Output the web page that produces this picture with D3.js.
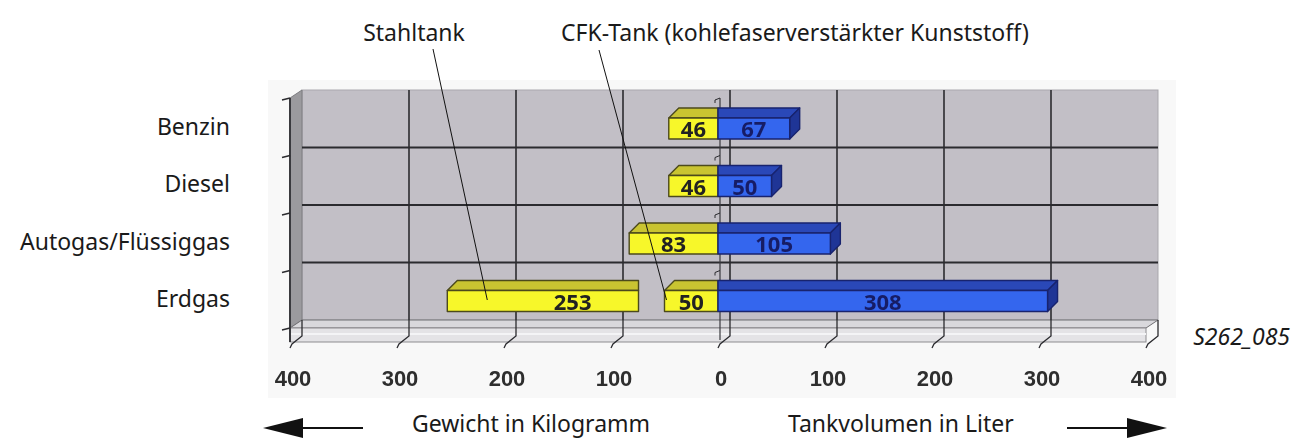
<!DOCTYPE html>
<html lang="de">
<head>
<meta charset="utf-8">
<title>Tankgewicht und Tankvolumen</title>
<style>
    body { margin: 0; background: #fff; }
    svg text { font-family: "Noto Sans", sans-serif; }
    .lbl { font-size: 23px; fill: #1a1a1a; }
    .num { font-family: "Liberation Sans", Arial, sans-serif !important; font-weight: bold; }
</style>
<script src="https://d3js.org/d3.v7.min.js"></script>
</head>
<body>
<div id="chart"></div>
<script>

    // data
    var categories = ["Benzin", "Diesel", "Autogas/Flüssiggas", "Erdgas"];
    var weight = [46, 46, 83, 50];          // kg, yellow bars next to 0
    var steelWeight = [0, 0, 0, 253];       // kg, Stahltank (only Erdgas)
    var volume = [67, 50, 105, 308];        // litre, blue bars
    var tickValues = [-400, -300, -200, -100, 0, 100, 200, 300, 400];
    var tickLabels = ["400", "300", "200", "100", "0", "100", "200", "300", "400"];

    var width = 1307, height = 441;
    var DX = 12, DY = -8;        // depth of the wall (front -> back)
    var BDX = 10, BDY = -10;     // depth of a bar
    var barH = 21;

    var svg = d3.select("#chart").append("svg")
        .attr("width", width)
        .attr("height", height);

    // soft look for the pixel font of the numbers
    svg.append("defs").append("filter").attr("id", "soft")
        .append("feGaussianBlur").attr("stdDeviation", 0.45);

    // front plane scales
    var x = d3.scaleLinear().domain([-400, 400]).range([290, 1146]);
    var y = d3.scaleBand().domain(categories).range([98, 328]);

    var x0 = x(-400), x1 = x(400), yTop = y.range()[0], yBot = y.range()[1];

    function poly(pts) { return "M" + pts.map(function(p) { return p.join(","); }).join("L") + "Z"; }

    // faint chart area
    svg.append("rect")
        .attr("x", 268).attr("y", 80).attr("width", 908).attr("height", 318)
        .attr("fill", "#f8f8f8");

    // back wall
    svg.append("rect")
        .attr("x", x0 + DX).attr("y", yTop + DY)
        .attr("width", x1 - x0).attr("height", yBot - yTop)
        .attr("fill", "#c2bfc6")
        .attr("stroke", "#a9a7ad");

    // left side wall
    svg.append("path")
        .attr("d", poly([[x0, yTop], [x0 + DX, yTop + DY], [x0 + DX, yBot + DY], [x0, yBot]]))
        .attr("fill", "#9b9a9e")
        .attr("stroke", "#7d7c80");

    // floor: top and front face
    svg.append("path")
        .attr("d", poly([[x0, yBot], [x0 + DX, yBot + DY], [x1 + DX, yBot + DY], [x1, yBot]]))
        .attr("fill", "#d9d8dc")
        .attr("stroke", "#6f6e72");
    svg.append("rect")
        .attr("x", x0).attr("y", yBot).attr("width", x1 - x0).attr("height", 14)
        .attr("fill", "#e4e3e6")
        .attr("stroke", "#8d8c90");
    svg.append("line")
        .attr("x1", x0).attr("x2", x1).attr("y1", yBot + 6).attr("y2", yBot + 6)
        .attr("stroke", "#f4f4f6").attr("stroke-width", 2);

    // vertical gridlines on the back wall and over the floor
    var grid = svg.append("g").attr("stroke", "#2b2b2f").attr("fill", "none");
    tickValues.slice(1, -1).forEach(function(v) {
        grid.append("line")
            .attr("x1", x(v) + DX).attr("x2", x(v) + DX)
            .attr("y1", yTop + DY).attr("y2", yBot + DY)
            .attr("stroke-width", 1.6);
    });
    tickValues.forEach(function(v) {
        grid.append("path")
            .attr("d", "M" + (x(v) + DX) + "," + (yBot + DY) + "L" + (x(v) + DX) + "," + (yBot + 8) +
                       "L" + (x(v) + 2) + "," + (yBot + 16) + "L" + x(v) + "," + (yBot + 20))
            .attr("stroke-width", 1.3);
    });

    // horizontal gridlines (category boundaries)
    categories.slice(1).forEach(function(c) {
        grid.append("line")
            .attr("x1", x0 + DX).attr("x2", x1 + DX)
            .attr("y1", y(c) + DY).attr("y2", y(c) + DY)
            .attr("stroke-width", 2);
    });

    // left axis with ticks
    grid.append("line")
        .attr("x1", x0).attr("x2", x0).attr("y1", yTop).attr("y2", yBot + 14)
        .attr("stroke", "#3a3a3e").attr("stroke-width", 2);
    categories.concat([null]).forEach(function(c) {
        var yy = c ? y(c) : yBot;
        grid.append("line")
            .attr("x1", x0 - 8).attr("x2", x0).attr("y1", yy + 2).attr("y2", yy)
            .attr("stroke-width", 1.3);
    });

    // category axis at zero
    grid.append("line")
        .attr("x1", x(0) + 2).attr("x2", x(0) + 2).attr("y1", yTop).attr("y2", yBot + 12)
        .attr("stroke", "#3a3a3e").attr("stroke-width", 1.2);
    categories.forEach(function(c) {
        grid.append("path")
            .attr("d", "M" + (x(0) - 3) + "," + (y(c) + 5) + "L" + (x(0) - 3) + "," + (y(c) + 2) + "L" + (x(0) + 2) + "," + y(c))
            .attr("stroke-width", 1);
    });

    // bars
    var bars = svg.append("g").attr("stroke-width", 1.4).attr("stroke-linejoin", "round");
    var barText = svg.append("g").attr("class", "num").attr("font-size", "22px")
        .attr("text-anchor", "middle").attr("filter", "url(#soft)");

    function leftBar(xa, xb, yy, front, top, line) {
        bars.append("path")
            .attr("d", poly([[xa, yy], [xa + BDX, yy + BDY], [xb, yy + BDY], [xb, yy]]))
            .attr("fill", top).attr("stroke", line);
        bars.append("rect")
            .attr("x", xa).attr("y", yy).attr("width", xb - xa).attr("height", barH)
            .attr("fill", front).attr("stroke", line);
    }

    categories.forEach(function(c, i) {
        var yy = y(c) + 20;

        // Stahltank, drawn cut before the CFK bar
        if (steelWeight[i] > 0) {
            leftBar(x(-steelWeight[i]), x(-weight[i]) - 26, yy, "#f7f72a", "#c9c431", "#4c4a1c");
            barText.append("text")
                .attr("x", x(-steelWeight[i] / 2) - 10).attr("y", yy + 19)
                .attr("fill", "#222")
                .text(steelWeight[i]);
        }

        // CFK / tank weight
        leftBar(x(-weight[i]), x(0), yy, "#f7f72a", "#c9c431", "#4c4a1c");

        // volume
        var xa = x(0), xb = x(volume[i]);
        bars.append("path")
            .attr("d", poly([[xa, yy], [xa, yy + BDY], [xb + BDX, yy + BDY], [xb, yy]]))
            .attr("fill", "#2a48b8").attr("stroke", "#18236e");
        bars.append("path")
            .attr("d", poly([[xb, yy], [xb + BDX, yy + BDY], [xb + BDX, yy + BDY + barH], [xb, yy + barH]]))
            .attr("fill", "#1f3596").attr("stroke", "#18236e");
        bars.append("rect")
            .attr("x", xa).attr("y", yy).attr("width", xb - xa).attr("height", barH)
            .attr("fill", "#3466ee").attr("stroke", "#18236e");

        barText.append("text")
            .attr("x", x(-weight[i] / 2)).attr("y", yy + 19)
            .attr("fill", "#222")
            .text(weight[i]);
        barText.append("text")
            .attr("x", x(volume[i] / 2)).attr("y", yy + 19)
            .attr("fill", "#161c66")
            .text(volume[i]);
    });
    barText.raise();

    // category labels
    svg.append("g").selectAll("text")
        .data(categories)
        .join("text")
        .attr("class", "lbl")
        .attr("x", 230)
        .attr("y", function(d) { return y(d) + y.step() / 2 + 8; })
        .attr("text-anchor", "end")
        .text(function(d) { return d; });

    // x tick labels
    svg.append("g").attr("filter", "url(#soft)").selectAll("text")
        .data(tickValues)
        .join("text")
        .attr("class", "num")
        .attr("x", function(d) { return x(d) + 3; })
        .attr("y", 386)
        .attr("text-anchor", "middle")
        .attr("fill", "#2e2e2e")
        .attr("font-size", "22px")
        .text(function(d, i) { return tickLabels[i]; });

    // annotations
    svg.append("text").attr("class", "lbl").attr("x", 414).attr("y", 41).attr("text-anchor", "middle").text("Stahltank");
    svg.append("text").attr("class", "lbl").attr("x", 795).attr("y", 41).attr("text-anchor", "middle").text("CFK-Tank (kohlefaserverstärkter Kunststoff)");
    svg.append("line").attr("x1", 433).attr("y1", 49).attr("x2", x(-253) + 40).attr("y2", 300).attr("stroke", "#111").attr("stroke-width", 1);
    svg.append("line").attr("x1", 599).attr("y1", 50).attr("x2", x(-50) + 2).attr("y2", 300).attr("stroke", "#111").attr("stroke-width", 1);

    svg.append("text").attr("class", "lbl").attr("x", 1290).attr("y", 345).attr("text-anchor", "end")
        .attr("font-style", "italic").text("S262_085");

    svg.append("text").attr("class", "lbl").attr("x", 412).attr("y", 432).text("Gewicht in Kilogramm");
    svg.append("text").attr("class", "lbl").attr("x", 788).attr("y", 432).text("Tankvolumen in Liter");

    // arrows
    svg.append("line").attr("x1", 300).attr("x2", 363).attr("y1", 428).attr("y2", 428).attr("stroke", "#111").attr("stroke-width", 2);
    svg.append("path").attr("d", poly([[263, 428], [303, 418], [303, 438]])).attr("fill", "#111");
    svg.append("line").attr("x1", 1067).attr("x2", 1130).attr("y1", 428).attr("y2", 428).attr("stroke", "#111").attr("stroke-width", 2);
    svg.append("path").attr("d", poly([[1167, 428], [1127, 418], [1127, 438]])).attr("fill", "#111");

</script>
</body>
</html>
